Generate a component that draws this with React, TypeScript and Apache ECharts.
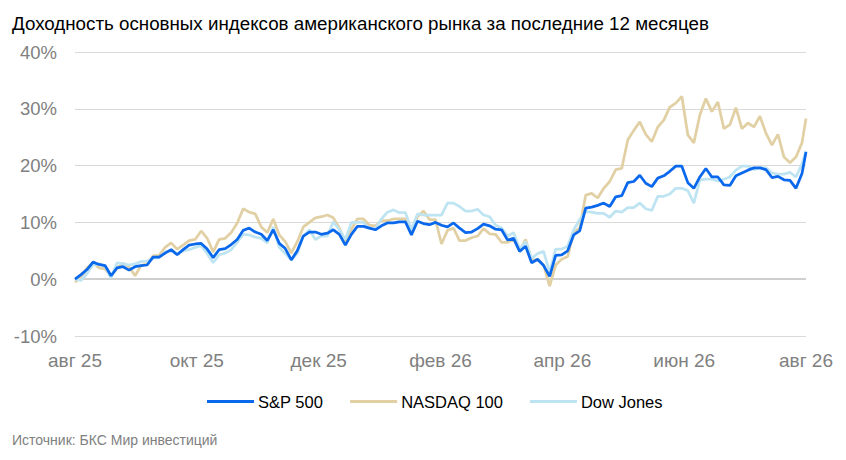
import React, { useEffect, useRef } from 'react';
import * as echarts from 'echarts';

// Sample dates (every ~3 days), Aug 2025 – Aug 2026
const dates = [
    '2025-08-01', '2025-08-04', '2025-08-07', '2025-08-10', '2025-08-13', '2025-08-16', '2025-08-19', '2025-08-22', '2025-08-25', '2025-08-28', '2025-08-31',
    '2025-09-03', '2025-09-06', '2025-09-09', '2025-09-12', '2025-09-15', '2025-09-18', '2025-09-21', '2025-09-24', '2025-09-27', '2025-09-30',
    '2025-10-03', '2025-10-06', '2025-10-09', '2025-10-12', '2025-10-15', '2025-10-18', '2025-10-21', '2025-10-24', '2025-10-27', '2025-10-30',
    '2025-11-02', '2025-11-05', '2025-11-08', '2025-11-11', '2025-11-14', '2025-11-17', '2025-11-20', '2025-11-23', '2025-11-26', '2025-11-29',
    '2025-12-02', '2025-12-05', '2025-12-08', '2025-12-11', '2025-12-14', '2025-12-17', '2025-12-20', '2025-12-23', '2025-12-26', '2025-12-29',
    '2026-01-01', '2026-01-04', '2026-01-07', '2026-01-10', '2026-01-13', '2026-01-16', '2026-01-19', '2026-01-22', '2026-01-25', '2026-01-28', '2026-01-31',
    '2026-02-03', '2026-02-06', '2026-02-09', '2026-02-12', '2026-02-15', '2026-02-18', '2026-02-21', '2026-02-24', '2026-02-27',
    '2026-03-02', '2026-03-05', '2026-03-08', '2026-03-11', '2026-03-14', '2026-03-17', '2026-03-20', '2026-03-23', '2026-03-26', '2026-03-29',
    '2026-04-01', '2026-04-04', '2026-04-07', '2026-04-10', '2026-04-13', '2026-04-16', '2026-04-19', '2026-04-22', '2026-04-25', '2026-04-28',
    '2026-05-01', '2026-05-04', '2026-05-07', '2026-05-10', '2026-05-13', '2026-05-16', '2026-05-19', '2026-05-22', '2026-05-25', '2026-05-28', '2026-05-31',
    '2026-06-03', '2026-06-06', '2026-06-09', '2026-06-12', '2026-06-15', '2026-06-18', '2026-06-21', '2026-06-24', '2026-06-27', '2026-06-30',
    '2026-07-03', '2026-07-06', '2026-07-09', '2026-07-12', '2026-07-15', '2026-07-18', '2026-07-21', '2026-07-24', '2026-07-27', '2026-07-30',
    '2026-08-01',
];

// Returns, %
const sp500 = [
    0, 0.8, 1.7, 3.0, 2.6, 2.4, 0.6, 2.0, 2.2, 1.6, 2.2,
    2.4, 2.5, 3.9, 3.9, 4.6, 5.2, 4.3, 5.2, 6.0, 6.2,
    6.3, 5.3, 3.8, 5.2, 5.4, 6.1, 7.0, 8.6, 9.0, 8.3,
    7.9, 6.8, 8.7, 6.3, 5.4, 3.4, 5.0, 7.6, 8.3, 8.3,
    7.9, 8.1, 8.7, 7.9, 6.0, 7.9, 9.3, 9.3, 9.0, 8.7,
    9.4, 9.9, 9.9, 10.1, 10.1, 7.8, 10.2, 9.8, 9.6, 10.0, 9.5,
    9.2, 9.9, 9.0, 8.2, 8.3, 8.9, 9.7, 9.4, 8.8,
    8.7, 6.9, 7.2, 4.9, 5.8, 2.9, 3.5, 2.4, 0.5, 4.2,
    4.3, 5.0, 7.8, 8.5, 12.5, 12.7, 13.0, 13.4, 12.8, 14.5,
    14.7, 17.0, 17.2, 18.3, 16.9, 16.3, 17.8, 18.2, 19.0, 19.9, 19.9,
    17.0, 16.0, 18.0, 19.5, 18.0, 18.0, 16.6, 16.5, 18.2, 18.7,
    19.2, 19.6, 19.6, 19.3, 17.9, 18.1, 17.5, 17.4, 16.0, 18.6,
    22.4,
];

const nasdaq100 = [
    -0.5, 0.3, 2.0, 2.9, 2.0, 1.8, 0.5, 2.0, 2.8, 2.2, 0.6,
    2.4, 2.7, 4.1, 4.2, 5.6, 6.4, 5.3, 6.0, 6.8, 7.0,
    8.5, 7.2, 4.8, 7.0, 7.2, 8.2, 9.9, 12.4, 11.8, 11.5,
    9.2, 8.2, 10.6, 7.8, 6.6, 4.6, 6.6, 9.2, 10.0, 10.8,
    11.0, 11.3, 10.8, 9.0, 6.6, 8.8, 10.6, 10.6, 9.5, 9.4,
    10.3, 10.3, 10.6, 10.6, 10.6, 8.2, 11.0, 12.0, 10.5, 10.5, 6.2,
    8.6, 9.0, 6.8, 6.8, 7.3, 7.6, 8.9, 8.0, 7.9,
    6.5, 6.5, 7.0, 5.1, 7.0, 3.4, 3.4, 2.5, -1.2, 2.5,
    3.5, 4.0, 8.2, 9.0, 14.8, 15.1, 14.3, 16.0, 17.2, 19.3,
    19.5, 24.5, 26.2, 27.7, 25.5, 24.2, 26.8, 28.0, 30.3, 31.0, 32.2,
    25.4, 24.0, 28.9, 31.8, 29.5, 31.2, 26.5, 27.2, 30.2, 26.5,
    27.5, 26.8, 28.7, 25.7, 23.6, 25.5, 21.5, 20.5, 21.5, 24.0,
    28.3,
];

const dowJones = [
    0, -0.2, 1.0, 2.5, 2.7, 2.3, 0.2, 2.9, 2.7, 2.5, 2.7,
    3.1, 3.2, 3.7, 3.8, 4.8, 5.0, 4.5, 5.0, 5.2, 5.6,
    5.9, 4.5, 2.9, 4.3, 4.6, 5.2, 6.5, 7.9, 7.8, 7.4,
    7.2, 6.4, 9.2, 5.6, 4.5, 3.4, 4.5, 7.5, 8.7, 7.0,
    7.6, 7.6, 10.1, 8.7, 7.0, 10.0, 10.0, 10.0, 8.9, 8.9,
    10.6, 11.8, 12.2, 11.7, 11.7, 8.7, 11.5, 11.3, 11.3, 11.3, 11.3,
    13.4, 13.4, 12.8, 12.0, 12.0, 12.3, 11.3, 11.0, 9.5,
    9.0, 7.6, 8.2, 5.3, 6.6, 3.7, 4.5, 4.9, 1.2, 5.3,
    5.3, 5.8, 8.7, 10.5, 11.9, 11.8, 11.6, 11.6, 10.9, 12.0,
    11.8, 12.6, 12.6, 13.4, 12.4, 12.1, 14.6, 14.6, 15.0, 16.0, 16.0,
    15.6, 13.4, 17.5, 17.6, 17.6, 17.3, 17.6, 18.0, 19.2, 19.9,
    19.9, 19.3, 19.6, 19.6, 18.7, 18.5, 18.5, 18.8, 18.0, 20.3,
    22.6,
];

const xTickLabels = ['авг 25', 'окт 25', 'дек 25', 'фев 26', 'апр 26', 'июн 26', 'авг 26'];

const DAY = 86400000;
const start = Date.parse('2025-08-01');
const end = Date.parse('2026-08-01');
const totalDays = (end - start) / DAY;
const toDay = (d: string) => (Date.parse(d) - start) / DAY;

const App: React.FC = () => {
    const chartRef = useRef<HTMLDivElement | null>(null);

    useEffect(() => {
        if (!chartRef.current) return;
        const chart = echarts.init(chartRef.current, null, { renderer: 'svg' });

        const pairs = (vals: number[]) => vals.map((v, i) => [toDay(dates[i]), v]);
        const step = totalDays / (xTickLabels.length - 1);

        const option = {
            animation: false,
            textStyle: { fontFamily: 'Liberation Sans, Arial, sans-serif' },
            title: {
                text: 'Доходность основных индексов американского рынка за последние 12 месяцев',
                left: 7,
                top: 9,
                textStyle: { fontSize: 18.75, fontWeight: 'normal', color: '#000' },
            },
            legend: {
                bottom: 45,
                left: 202,
                icon: 'rect',
                itemWidth: 47,
                itemHeight: 3,
                itemGap: 27,
                textStyle: { fontSize: 16.5, color: '#000', padding: [0, 0, 0, -1] },
                data: ['S&P 500', 'NASDAQ 100', 'Dow Jones'],
                selectedMode: false,
            },
            graphic: [
                {
                    type: 'text',
                    left: 12,
                    top: 433,
                    style: {
                        text: 'Источник: БКС Мир инвестиций',
                        fontSize: 14,
                        fill: '#808080',
                        fontFamily: 'Liberation Sans, Arial, sans-serif',
                    },
                },
            ],
            grid: { left: 75, right: 40, top: 52, bottom: 124, containLabel: false },
            xAxis: {
                type: 'value',
                min: 0,
                max: totalDays,
                interval: step,
                axisLine: { show: false },
                axisTick: { show: false },
                splitLine: { show: false },
                axisLabel: {
                    fontSize: 19,
                    color: '#808080',
                    margin: 15,
                    showMinLabel: true,
                    showMaxLabel: true,
                    formatter: (v: number) => xTickLabels[Math.round(v / step)] ?? '',
                },
            },
            yAxis: {
                type: 'value',
                min: -10,
                max: 40,
                interval: 10,
                axisLine: { show: false },
                axisTick: { show: false },
                splitLine: { lineStyle: { color: '#d9d9d9', width: 1 } },
                axisLabel: { fontSize: 18.5, color: '#808080', margin: 18, formatter: '{value}%' },
            },
            series: [
                {
                    name: 'S&P 500',
                    type: 'line',
                    data: pairs(sp500),
                    showSymbol: false,
                    z: 4,
                    color: '#0a68ec',
                    lineStyle: { width: 2.75, color: '#0a68ec' },
                    markLine: {
                        silent: true,
                        symbol: ['none', 'none'],
                        label: { show: false },
                        lineStyle: { color: '#cfcfcf', width: 2, type: 'solid' },
                        data: [{ yAxis: 0 }],
                        z: 1,
                    },
                },
                {
                    name: 'NASDAQ 100',
                    type: 'line',
                    data: pairs(nasdaq100),
                    showSymbol: false,
                    z: 2,
                    color: '#e2d0a5',
                    lineStyle: { width: 2.75, color: '#e2d0a5' },
                },
                {
                    name: 'Dow Jones',
                    type: 'line',
                    data: pairs(dowJones),
                    showSymbol: false,
                    z: 3,
                    color: '#bee4f2',
                    lineStyle: { width: 2.75, color: '#bee4f2' },
                },
            ],
        };

        chart.setOption(option);
        return () => {
            chart.dispose();
        };
    }, []);

    return <div ref={chartRef} style={{ width: '846px', height: '460px', margin: '-8px' }} />;
};

export default App;
